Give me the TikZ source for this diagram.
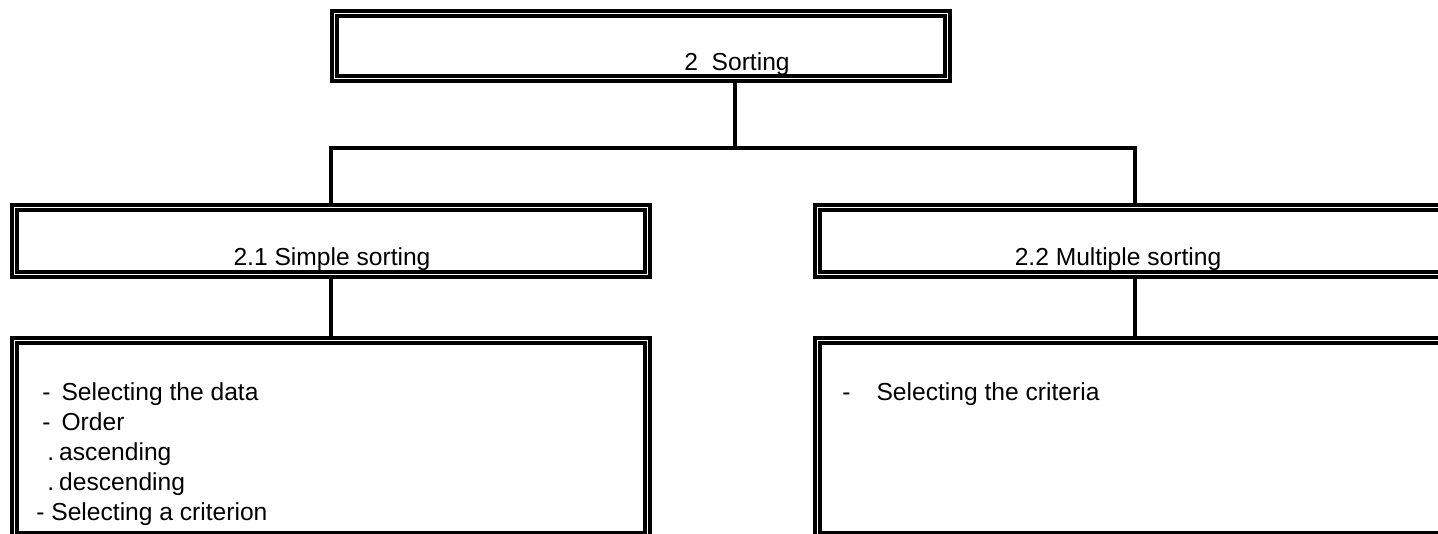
\documentclass[tikz,border=0pt]{standalone}
\usepackage{fontspec}
\setmainfont{Liberation Sans}

\begin{document}
\begin{tikzpicture}[x=0.5pt, y=-0.5pt]
        \tikzset{
            box/.style={draw, double, line width=2pt, double distance=0.5pt, fill=white, inner sep=0pt, outer sep=2.25pt},
            link/.style={draw, line width=2pt},
            label/.style={inner sep=0pt, font=\fontsize{12.3}{15}\selectfont}
        }
        \useasboundingbox (0,0) rectangle (1438,534);
        \clip (0,0) rectangle (1438,534);

        \node[box, minimum width=306.5pt, minimum height=32.5pt] (sorting) at (641,46) {};
        \node[box, minimum width=316.5pt, minimum height=33.5pt] (simple) at (331,241) {};
        \node[box, minimum width=317.5pt, minimum height=33.5pt] (multiple) at (1135,241) {};
        \node[box, minimum width=316.5pt, minimum height=97.25pt] (simplebody) at (331,437.75) {};
        \node[box, minimum width=317.5pt, minimum height=97.25pt] (multiplebody) at (1135,437.75) {};

        \node[label, anchor=base] (sortingtext) at (737,71) {2\ \ Sorting};
        \node[label, anchor=base] (simpletext) at (332,265) {2.1 Simple sorting};
        \node[label, anchor=base] (multipletext) at (1118,265) {2.2 Multiple sorting};
        \node[label, anchor=north west, align=left] (simplelist) at (42,382) {-\hspace{5.5pt}Selecting the data\\-\hspace{5.5pt}Order\\\hspace{2.5pt}.\hspace{2.5pt}ascending\\\hspace{2.5pt}.\hspace{2.5pt}descending\\\hspace{-3pt}- Selecting a criterion};
        \node[label, anchor=base west] (multiplelist) at (842,400) {-\hspace{13pt}Selecting the criteria};

        \coordinate (fork) at (735,148);
        \draw[link] (sorting.south -| fork) -- (fork);
        \draw[link] (simple.north) |- (fork) -| (multiple.north);
        \draw[link] (simple) -- (simplebody);
        \draw[link] (multiple) -- (multiplebody);
    \end{tikzpicture}
\end{document}
